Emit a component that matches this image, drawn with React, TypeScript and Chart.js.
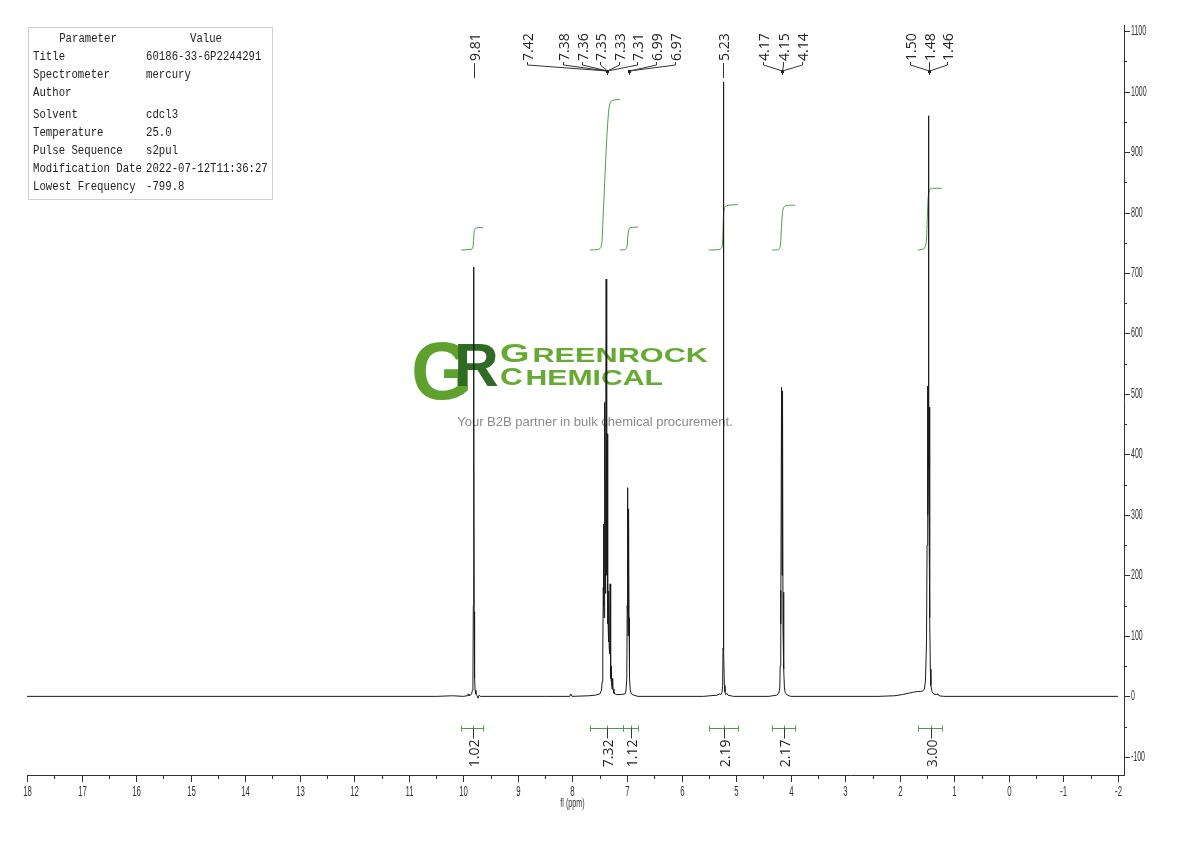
import React, { useEffect, useRef } from "react";
import { Chart, registerables } from "chart.js";

Chart.register(...registerables);

// ---------------- data ----------------
const specPpm = [
  18.0, 10.5, 10.2, 10.0, 9.93, 9.91, 9.9, 9.87, 9.85, 9.835, 9.825, 9.818, 9.813, 9.81, 9.807, 9.802,
  9.795, 9.785, 9.77, 9.75, 9.73, 9.71, 9.69, 8.5, 8.05, 8.03, 8.01, 7.7, 7.58, 7.5, 7.47, 7.455,
  7.445, 7.436, 7.432, 7.426, 7.42, 7.414, 7.408, 7.4, 7.395, 7.389, 7.383, 7.376, 7.373, 7.37, 7.366,
  7.36, 7.356, 7.353, 7.35, 7.345, 7.341, 7.338, 7.335, 7.328, 7.32, 7.314, 7.31, 7.303, 7.298, 7.293,
  7.29, 7.285, 7.275, 7.266, 7.262, 7.257, 7.24, 7.2, 7.1, 7.04, 7.02, 7.005, 6.997, 6.992, 6.986, 6.98,
  6.975, 6.97, 6.964, 6.955, 6.94, 6.92, 6.88, 6.8, 5.6, 5.35, 5.3, 5.28, 5.26, 5.248, 5.24, 5.235,
  5.232, 5.229, 5.224, 5.216, 5.205, 5.19, 5.17, 5.15, 5.05, 4.4, 4.26, 4.22, 4.2, 4.193, 4.186, 4.178,
  4.168, 4.159, 4.15, 4.141, 4.132, 4.125, 4.115, 4.1, 4.06, 4.0, 3.5, 2.4, 2.1, 1.95, 1.85, 1.75,
  1.68, 1.62, 1.58, 1.55, 1.53, 1.51, 1.5, 1.492, 1.484, 1.479, 1.474, 1.468, 1.462, 1.456, 1.448, 1.44,
  1.43, 1.41, 1.38, 1.33, 1.3, 1.28, 1.2, -2.0,
];
const specInt = [
  0, 0, 1, 0, 1, 4, 1, 2, 4, 10, 30, 150, 500, 710, 480, 140,
  30, 10, 4, 1, -3, 2, 0, 0, 0, 4, 0, 1, 2, 4, 10, 25,
  70, 180, 285, 150, 130, 250, 486, 230, 170, 360, 690, 300, 200, 260, 434,
  180, 120, 150, 195, 110, 90, 120, 174, 80, 70, 110, 186, 60, 30, 40,
  50, 25, 12, 20, 30, 12, 5, 3, 3, 4, 9, 30, 150, 345, 140, 100,
  150, 310, 130, 30, 9, 4, 2, 0, 0, 2, 4, 3, 6, 18, 80, 350,
  1016, 340, 75, 18, 7, 3, 5, 2, 0, 0, 2, 5, 14, 50, 175, 120,
  511, 200, 505, 115, 172, 45, 14, 6, 2, 0, 0, 0, 1, 3, 5, 7,
  8, 8, 9, 12, 25, 90, 250, 513, 300, 400, 960, 380, 280, 478, 130, 45,
  18, 8, 4, 3, 4, 1, 0, 0,
];

// integral curves (ppm / integral trace level)
const integral1Ppm = [10.04, 9.86, 9.83, 9.818, 9.81, 9.8, 9.78, 9.72, 9.64];
const integral1Val = [738, 739, 741, 748, 760, 770, 774, 775, 775];
const integral2Ppm = [7.68, 7.52, 7.48, 7.46, 7.44, 7.4, 7.37, 7.34, 7.32, 7.29, 7.24, 7.13];
const integral2Val = [738, 739, 742, 752, 790, 870, 925, 965, 978, 984, 986, 987];
const integral3Ppm = [7.13, 7.03, 7.0, 6.99, 6.975, 6.96, 6.94, 6.8];
const integral3Val = [738, 739, 744, 756, 768, 773, 775, 776];
const integral4Ppm = [5.5, 5.3, 5.26, 5.245, 5.232, 5.22, 5.2, 5.14, 4.97];
const integral4Val = [738, 739, 743, 760, 795, 806, 810, 812, 813];
const integral5Ppm = [4.34, 4.22, 4.19, 4.17, 4.15, 4.13, 4.1, 4.04, 3.92];
const integral5Val = [738, 739, 745, 775, 800, 808, 811, 812, 812];
const integral6Ppm = [1.67, 1.56, 1.52, 1.5, 1.48, 1.46, 1.44, 1.4, 1.23];
const integral6Val = [738, 740, 748, 780, 825, 836, 839, 840, 840];

// integration bars
const intFrom = [10.04, 7.68, 7.07, 5.5, 4.34, 1.67];
const intTo = [9.64, 7.07, 6.8, 4.97, 3.92, 1.23];
const intLabels = ["1.02", "7.32", "1.12", "2.19", "2.17", "3.00"];
const intBarLevel = -53;

// peak labels
const peakLabels = ["9.81", "7.42", "7.38", "7.36", "7.35", "7.33", "7.31", "6.99", "6.97", "5.23", "4.17", "4.15", "4.14", "1.50", "1.48", "1.46"];
const peakLabelPpm = [9.806, 8.834, 8.174, 7.826, 7.496, 7.148, 6.818, 6.469, 6.121, 5.241, 4.508, 4.141, 3.793, 1.813, 1.465, 1.135];
const peakTargetPpm = [9.806, 7.367, 7.367, 7.367, 7.367, 7.367, 7.367, 6.964, 6.964, 5.241, 4.159, 4.159, 4.159, 1.465, 1.465, 1.465];
const peakGrouped = [false, true, true, true, true, true, true, true, true, false, true, true, true, true, true, true];

// axis ticks
const xMajorTicks = [18, 17, 16, 15, 14, 13, 12, 11, 10, 9, 8, 7, 6, 5, 4, 3, 2, 1, 0, -1, -2];
const yMajorTicks = [-100, 0, 100, 200, 300, 400, 500, 600, 700, 800, 900, 1000, 1100];
const xAxisTitle = "fl (ppm)";

// parameter table
const paramNames = ["Title", "Spectrometer", "Author", "Solvent", "Temperature", "Pulse Sequence", "Modification Date", "Lowest Frequency"];
const paramValues = ["60186-33-6P2244291", "mercury", "", "cdcl3", "25.0", "s2pul", "2022-07-12T11:36:27", "-799.8"];

// watermark text
const brandTop = ["G", "REENROCK"];
const brandBottom = ["C", "HEMICAL"];
const brandTagline = "Your B2B partner in bulk chemical procurement.";

// ---------------- helpers ----------------
const NARROW = "'Liberation Sans', 'DejaVu Sans', sans-serif";

function narrowText(ctx: CanvasRenderingContext2D, text: string, x: number, y: number, size: number, sx: number, align: CanvasTextAlign) {
  ctx.save();
  ctx.translate(x, y);
  ctx.scale(sx, 1);
  ctx.font = `${size}px ${NARROW}`;
  ctx.textAlign = align;
  ctx.textBaseline = "middle";
  ctx.fillStyle = "#333";
  ctx.fillText(text, 0, 0);
  ctx.restore();
}

function toPoints(xs: number[], ys: number[]) {
  return xs.map((x, i) => ({ x, y: ys[i] }));
}

const overlayPlugin = {
  id: "nmrOverlay",
  beforeDatasetsDraw(chart: any) {
    const ctx: CanvasRenderingContext2D = chart.ctx;
    ctx.save();
    // logo
    ctx.textBaseline = "alphabetic";
    ctx.textAlign = "left";
    ctx.fillStyle = "#5fa12f";
    ctx.font = `bold 81px ${NARROW}`;
    ctx.save();
    ctx.translate(411, 399);
    ctx.scale(0.98, 1);
    ctx.fillText("G", 0, 0);
    ctx.restore();
    ctx.fillStyle = "#2f6b22";
    ctx.font = `bold 62px ${NARROW}`;
    ctx.fillText("R", 454, 386);

    const drawBrand = (parts: string[], x: number, baseline: number, big: number, small: number, width: number) => {
      ctx.save();
      ctx.fillStyle = "#66aa33";
      ctx.font = `bold ${big}px ${NARROW}`;
      const w1 = ctx.measureText(parts[0]).width;
      ctx.font = `bold ${small}px ${NARROW}`;
      const w2 = ctx.measureText(parts[1]).width;
      const sx = width / (w1 + w2 + 2);
      ctx.translate(x, baseline);
      ctx.scale(sx, 1);
      ctx.font = `bold ${big}px ${NARROW}`;
      ctx.fillText(parts[0], 0, 0);
      ctx.font = `bold ${small}px ${NARROW}`;
      ctx.fillText(parts[1], w1 + 2, 0);
      ctx.restore();
    };
    drawBrand(brandTop, 500, 362, 26, 21, 208);
    drawBrand(brandBottom, 500, 385, 23, 22, 163);

    ctx.fillStyle = "#8a8a8a";
    ctx.font = `13px ${NARROW}`;
    ctx.textAlign = "center";
    ctx.fillText(brandTagline, 595, 426);
    ctx.restore();
  },
  afterDraw(chart: any) {
    const ctx: CanvasRenderingContext2D = chart.ctx;
    const xs = chart.scales.x;
    const ys = chart.scales.y;
    ctx.save();
    ctx.strokeStyle = "#333";
    ctx.lineWidth = 1;

    // x ticks
    for (const t of xs.ticks) {
      const v = t.value;
      const px = Math.round(xs.getPixelForValue(v)) + 0.5;
      const major = Number.isInteger(v);
      ctx.beginPath();
      ctx.moveTo(px, xs.top);
      ctx.lineTo(px, xs.top + (major ? 7 : 4));
      ctx.stroke();
      if (major) narrowText(ctx, String(v), px, xs.top + 17, 15, 0.52, "center");
    }
    narrowText(ctx, xAxisTitle, (chart.chartArea.left + xs.getPixelForValue(-2)) / 2, xs.top + 29, 12, 0.6, "center");

    // y ticks
    for (const t of ys.ticks) {
      const v = t.value;
      const py = Math.round(ys.getPixelForValue(v)) + 0.5;
      const major = v % 100 === 0;
      ctx.beginPath();
      ctx.moveTo(ys.left, py);
      ctx.lineTo(ys.left + (major ? 6 : 3), py);
      ctx.stroke();
      if (major) narrowText(ctx, String(v), ys.left + 7, py, 14, 0.5, "left");
    }

    // peak labels
    ctx.fillStyle = "#222";
    ctx.strokeStyle = "#333";
    for (let i = 0; i < peakLabels.length; i++) {
      const lx = Math.round(xs.getPixelForValue(peakLabelPpm[i])) + 0.5;
      const tx = Math.round(xs.getPixelForValue(peakTargetPpm[i])) + 0.5;
      ctx.save();
      ctx.translate(lx + 5, 61);
      ctx.rotate(-Math.PI / 2);
      ctx.font = `14px 'Open Sans', 'DejaVu Sans', sans-serif`;
      ctx.textAlign = "left";
      ctx.textBaseline = "alphabetic";
      ctx.fillText(peakLabels[i], 0, 0);
      ctx.restore();
      ctx.beginPath();
      if (peakGrouped[i]) {
        ctx.moveTo(lx, 62);
        ctx.lineTo(lx, 65);
        ctx.lineTo(tx, 71);
        ctx.lineTo(tx, 75);
      } else {
        ctx.moveTo(lx, 63);
        ctx.lineTo(lx, 78);
      }
      ctx.stroke();
      if (peakGrouped[i]) {
        ctx.fillStyle = "#222";
        ctx.fillRect(tx - 1.5, 70, 3, 3);
      }
    }

    // integration bars
    const by = Math.round(ys.getPixelForValue(intBarLevel)) + 0.5;
    for (let i = 0; i < intLabels.length; i++) {
      const x1 = Math.round(xs.getPixelForValue(intFrom[i])) + 0.5;
      const x2 = Math.round(xs.getPixelForValue(intTo[i])) + 0.5;
      const xm = Math.round((x1 + x2) / 2) + 0.5;
      ctx.strokeStyle = "#4a9e4a";
      ctx.beginPath();
      ctx.moveTo(x1, by);
      ctx.lineTo(x2, by);
      ctx.moveTo(x1, by - 3);
      ctx.lineTo(x1, by + 3);
      ctx.moveTo(x2, by - 3);
      ctx.lineTo(x2, by + 3);
      ctx.moveTo(xm, by - 3);
      ctx.lineTo(xm, by);
      ctx.stroke();
      ctx.strokeStyle = "#333";
      ctx.beginPath();
      ctx.moveTo(xm, by);
      ctx.lineTo(xm, by + 10);
      ctx.stroke();
      ctx.save();
      ctx.translate(xm + 5, by + 11);
      ctx.rotate(-Math.PI / 2);
      ctx.font = `14px 'Open Sans', 'DejaVu Sans', sans-serif`;
      ctx.textAlign = "right";
      ctx.textBaseline = "alphabetic";
      ctx.fillStyle = "#222";
      ctx.fillText(intLabels[i], 0, 0);
      ctx.restore();
    }

    // parameter table
    ctx.fillStyle = "#fff";
    ctx.fillRect(28, 27, 244, 172);
    ctx.strokeStyle = "#cfcfcf";
    ctx.strokeRect(28.5, 27.5, 244, 172);
    const rowY = [57, 75, 93, 115, 133, 151, 169, 187];
    const mono = (text: string, x: number, y: number, align: CanvasTextAlign) => {
      ctx.save();
      ctx.translate(x, y);
      ctx.scale(0.89, 1);
      ctx.font = `12px 'Liberation Mono', 'DejaVu Sans Mono', monospace`;
      ctx.textAlign = align;
      ctx.textBaseline = "middle";
      ctx.fillStyle = "#222";
      ctx.fillText(text, 0, 0);
      ctx.restore();
    };
    mono("Parameter", 88, 39, "center");
    mono("Value", 206, 39, "center");
    for (let i = 0; i < paramNames.length; i++) {
      mono(paramNames[i], 33, rowY[i], "left");
      if (paramValues[i]) mono(paramValues[i], 146, rowY[i], "left");
    }
    ctx.restore();
  },
};

export default function App() {
  const ref = useRef<HTMLCanvasElement>(null);
  useEffect(() => {
    document.body.style.margin = "0";
    const canvas = ref.current;
    if (!canvas) return;
    const integralSets = [
      [integral1Ppm, integral1Val],
      [integral2Ppm, integral2Val],
      [integral3Ppm, integral3Val],
      [integral4Ppm, integral4Val],
      [integral5Ppm, integral5Val],
      [integral6Ppm, integral6Val],
    ].map(([p, v]) => ({
      data: toPoints(p, v),
      showLine: true,
      borderColor: "#4a9e4a",
      borderWidth: 1,
      pointRadius: 0,
      tension: 0.3,
      order: 2,
    }));
    const chart = new Chart(canvas, {
      type: "scatter",
      data: {
        datasets: [
          {
            data: toPoints(specPpm, specInt),
            showLine: true,
            borderColor: "#1a1a1a",
            borderWidth: 1,
            pointRadius: 0,
            tension: 0,
            order: 1,
          } as any,
          ...integralSets,
        ],
      },
      options: {
        responsive: false,
        animation: false,
        devicePixelRatio: 1,
        layout: { padding: { left: 27, top: 25, right: 0, bottom: 0 } },
        plugins: { legend: { display: false }, tooltip: { enabled: false } },
        scales: {
          x: {
            type: "linear",
            reverse: true,
            min: -2.11,
            max: 18,
            position: "bottom",
            grid: { display: false },
            border: { display: true, color: "#333", width: 1 },
            ticks: { display: false },
            afterBuildTicks: (s: any) => {
              const t: { value: number }[] = [];
              xMajorTicks.forEach((v, i) => {
                t.push({ value: v });
                if (i < xMajorTicks.length - 1) t.push({ value: v - 0.5 });
              });
              s.ticks = t;
            },
            afterFit: (s: any) => {
              s.height = 66;
            },
          },
          y: {
            type: "linear",
            position: "right",
            min: -130,
            max: 1110,
            grid: { display: false },
            border: { display: true, color: "#333", width: 1 },
            ticks: { display: false },
            afterBuildTicks: (s: any) => {
              const t: { value: number }[] = [];
              yMajorTicks.forEach((v, i) => {
                t.push({ value: v });
                if (i < yMajorTicks.length - 1) t.push({ value: v + 50 });
              });
              s.ticks = t;
            },
            afterFit: (s: any) => {
              s.width = 66;
            },
          },
        },
      } as any,
      plugins: [overlayPlugin],
    });
    return () => chart.destroy();
  }, []);
  return (
    <div style={{ width: 1190, height: 841, background: "#fff" }}>
      <canvas ref={ref} width={1190} height={841} style={{ display: "block" }} />
    </div>
  );
}
